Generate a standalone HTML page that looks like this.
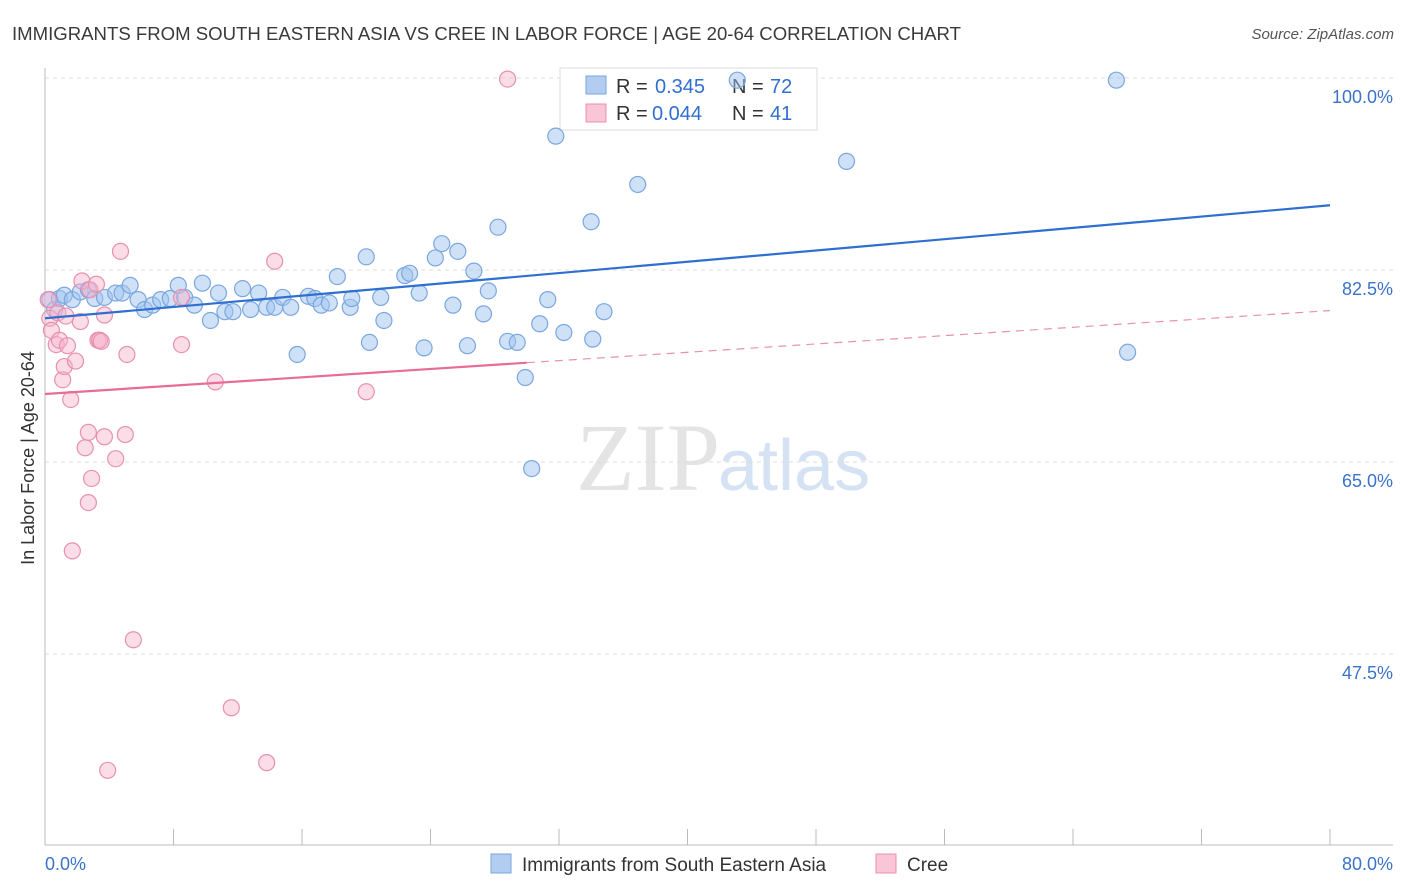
<!DOCTYPE html>
<html><head><meta charset="utf-8">
<style>
body{margin:0;background:#fff;font-family:"Liberation Sans",sans-serif;}
svg{display:block}
</style></head>
<body>
<svg id="chart" width="1406" height="892" viewBox="0 0 1406 892">
<text x="12" y="40" font-size="18" fill="#3a3a3a" textLength="949" lengthAdjust="spacingAndGlyphs">IMMIGRANTS FROM SOUTH EASTERN ASIA VS CREE IN LABOR FORCE | AGE 20-64 CORRELATION CHART</text>
<text x="1394" y="39" font-size="15" fill="#555" font-style="italic" text-anchor="end">Source: ZipAtlas.com</text>
<text x="720" y="490" font-size="96" fill="#e4e4e4" text-anchor="end" font-family="Liberation Serif">ZIP</text>
<text x="718" y="490" font-size="72" fill="#d4e2f4">atlas</text>
<g id="grid"></g>
<g id="axes"></g>
<g>
<rect x="560" y="68" width="257" height="62" fill="#fff" stroke="#ddd"/>
<rect x="586" y="76" width="20" height="18" fill="#b3cdf0" stroke="#7aa7e0"/>
<text x="616" y="93" font-size="20" fill="#333">R =</text>
<text x="655" y="93" font-size="20" fill="#2f6fd0">0.345</text>
<text x="732" y="93" font-size="20" fill="#333">N =</text>
<text x="770" y="93" font-size="20" fill="#2f6fd0">72</text>
<rect x="586" y="104" width="20" height="18" fill="#f8c6d6" stroke="#e990ae"/>
<text x="616" y="120" font-size="20" fill="#333">R =</text>
<text x="652" y="120" font-size="20" fill="#2f6fd0">0.044</text>
<text x="732" y="120" font-size="20" fill="#333">N =</text>
<text x="770" y="120" font-size="20" fill="#2f6fd0">41</text>
</g>
<g id="marks"></g>
<text transform="translate(34,458) rotate(-90)" font-size="18" fill="#333" text-anchor="middle">In Labor Force | Age 20-64</text>
<text x="45" y="870" font-size="18" fill="#3b73c9">0.0%</text>
<text x="1393" y="870" font-size="18" fill="#3b73c9" text-anchor="end">80.0%</text>
<g>
<rect x="491" y="854" width="20" height="19" fill="#b3cdf0" stroke="#7aa7e0"/>
<text x="522" y="871" font-size="19" fill="#333">Immigrants from South Eastern Asia</text>
<rect x="876" y="854" width="20" height="19" fill="#f8c6d6" stroke="#e990ae"/>
<text x="907" y="871" font-size="19" fill="#333">Cree</text>
</g>
</svg>
<script>
const yTicks=[100,82.5,65,47.5];
const yTickLabels=["100.0%","82.5%","65.0%","47.5%"];
const xTicks=[0,8,16,24,32,40,48,56,64,72,80];
const blueX=[0.3,0.6,0.9,1.2,1.7,2.2,2.7,3.1,3.7,4.4,4.8,5.3,5.8,6.2,6.7,7.2,7.8,8.3,8.7,9.3,9.8,10.3,10.8,11.2,11.7,12.3,12.8,13.3,13.8,14.3,14.8,15.3,15.7,16.4,16.8,17.2,17.7,18.2,19.0,19.1,20.0,20.2,20.9,21.1,22.4,22.7,23.3,23.6,24.3,24.7,25.4,25.7,26.3,26.7,27.3,27.6,28.2,28.8,29.4,29.9,30.3,30.8,31.3,31.8,32.3,34.0,34.1,34.8,36.9,43.1,49.9,66.7,67.4];
const blueY=[79.8,78.9,79.9,80.2,79.8,80.5,80.7,79.9,80.0,80.4,80.4,81.1,79.8,78.9,79.3,79.8,79.9,81.1,80.0,79.3,81.3,77.9,80.4,78.7,78.7,80.8,78.9,80.4,79.1,79.1,80.0,79.1,74.8,80.1,79.9,79.3,79.5,81.9,79.1,79.9,83.7,75.9,80.0,77.9,82.0,82.2,80.4,75.4,83.6,84.9,79.3,84.2,75.6,82.4,78.5,80.6,86.4,76.0,75.9,72.7,64.4,77.6,79.8,94.7,76.8,86.9,76.2,78.7,90.3,99.8,92.4,99.8,75.0];
const pinkX=[0.2,0.3,0.4,0.7,0.9,1.1,1.2,1.4,1.6,1.7,1.9,2.2,2.3,2.5,2.7,2.8,2.9,3.2,2.7,3.3,3.4,3.7,3.7,3.9,4.4,4.7,5.0,5.1,5.5,8.5,8.5,10.6,11.6,13.8,14.3,20.0,28.8,0.8,1.3,3.5];
const pinkY=[79.8,78.1,77.0,75.7,76.1,72.5,73.7,75.6,70.7,56.9,74.2,77.8,81.5,66.3,67.7,80.7,63.5,81.2,61.3,76.1,76.1,78.4,67.3,36.9,65.3,84.2,67.5,74.8,48.8,75.7,80.0,72.3,42.6,37.6,83.3,71.4,99.9,78.6,78.3,76.0];
const blueTrend=[78.1,88.4];
const pinkTrend=[71.2,78.8];
const pinkSolidEnd=30;

const NS="http://www.w3.org/2000/svg";
const X=v=>45+v/80*1285;
const Y=v=>78+(100-v)/17.5*192;
function mk(tag,attrs,parent){const e=document.createElementNS(NS,tag);for(const k in attrs)e.setAttribute(k,attrs[k]);document.getElementById(parent).appendChild(e);return e;}
yTicks.forEach((t,i)=>{
  const l=mk('line',{x1:45,x2:1393,y1:Y(t),y2:Y(t),stroke:'#ddd','stroke-dasharray':'4,4'},'grid');
  
  
  const tx=mk('text',{x:1393,y:Y(t)+25,'font-size':18,fill:'#3b73c9','text-anchor':'end'},'grid');
  tx.textContent=yTickLabels[i];
  
  
});
let a=mk('line',{x1:45,x2:45,y1:68,y2:845,stroke:'#bbb'},'axes');


a=mk('line',{x1:45,x2:1393,y1:845,y2:845,stroke:'#bbb'},'axes');


xTicks.forEach(t=>{
  const l=mk('line',{x1:X(t),x2:X(t),y1:829,y2:845,stroke:'#bbb'},'axes');
  
  
});
blueX.forEach((x,i)=>{
  const c=mk('circle',{cx:X(x),cy:Y(blueY[i]),r:8,fill:'rgba(160,195,238,0.5)',stroke:'#7aa7e0','stroke-width':1.2},'marks');
  
  
});
pinkX.forEach((x,i)=>{
  const c=mk('circle',{cx:X(x),cy:Y(pinkY[i]),r:8,fill:'rgba(246,180,203,0.45)',stroke:'#e990ae','stroke-width':1.2},'marks');
  
  
});
let t=mk('line',{x1:X(0),y1:Y(blueTrend[0]),x2:X(80),y2:Y(blueTrend[1]),stroke:'#2f6fd0','stroke-width':2.2},'marks');


const pAt=x=>pinkTrend[0]+(pinkTrend[1]-pinkTrend[0])*x/80;
t=mk('line',{x1:X(0),y1:Y(pAt(0)),x2:X(pinkSolidEnd),y2:Y(pAt(pinkSolidEnd)),stroke:'#e86c98','stroke-width':2.2},'marks');


t=mk('line',{x1:X(pinkSolidEnd),y1:Y(pAt(pinkSolidEnd)),x2:X(80),y2:Y(pAt(80)),stroke:'#e990ae','stroke-width':1.2,'stroke-dasharray':'8,6'},'marks');


</script>
</body></html>
